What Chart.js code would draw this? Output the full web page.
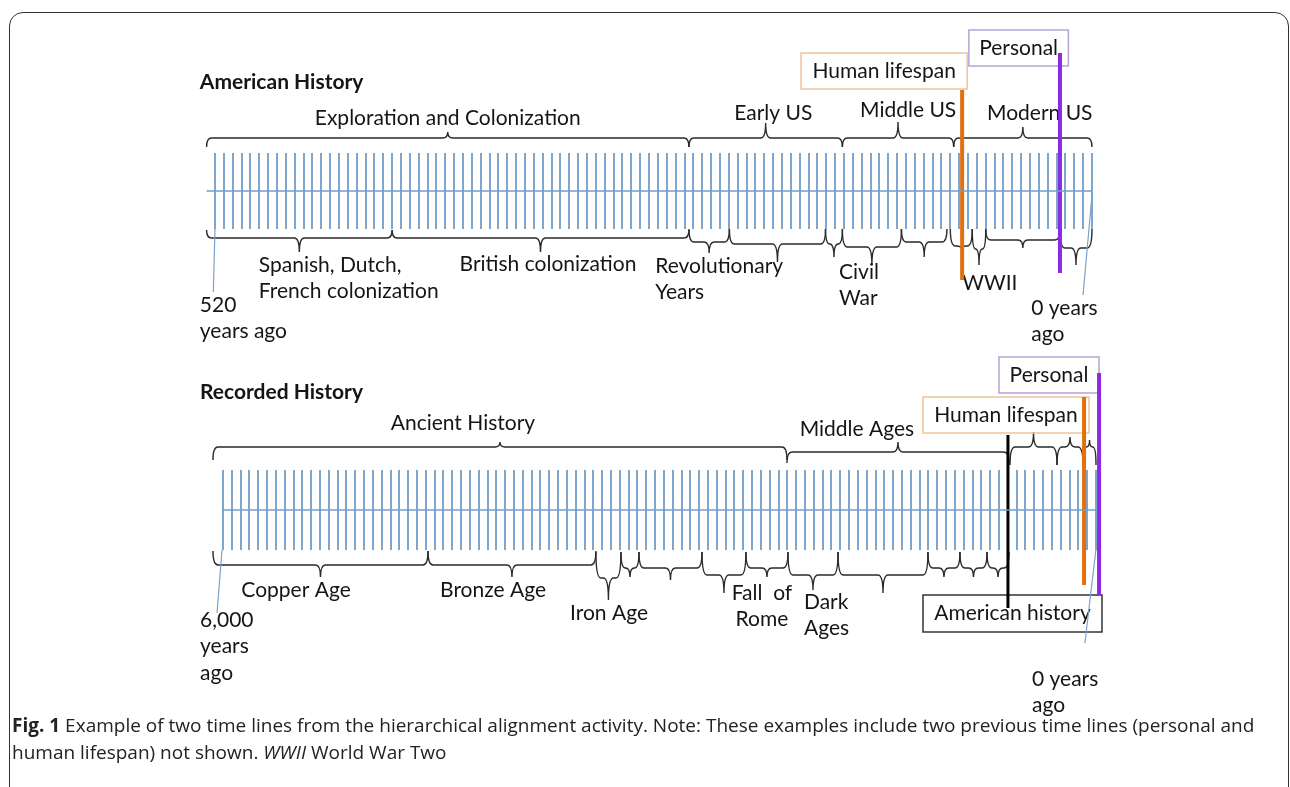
<!DOCTYPE html>
<html>
<head>
<meta charset="utf-8">
<script src="https://cdn.jsdelivr.net/npm/chart.js@4.4.1/dist/chart.umd.min.js"></script>
<style>
  body { margin: 0; background: #fff; width: 1290px; height: 787px; overflow: hidden; position: relative; }
  #frame { position: absolute; left: 9px; top: 12px; width: 1280px; height: 800px; border: 1.5px solid #333; border-radius: 14px; box-sizing: border-box; }
  canvas { position: absolute; left: 0; }
  #us { top: 0; }
  #world { top: 340px; }
  #caption { position: absolute; left: 12px; top: 712px; font: 19px "Open Sans", sans-serif; line-height: 27px; color: #222; white-space: nowrap; }
  #caption b { font-weight: 700; }
</style>
</head>
<body>
<div id="frame"></div>
<canvas id="us" width="1290" height="350"></canvas>
<canvas id="world" width="1290" height="380"></canvas>
<div id="caption"><b>Fig. 1</b> Example of two time lines from the hierarchical alignment activity. Note: These examples include two previous time lines (personal and<br>human lifespan) not shown. <i>WWII</i> World War Two</div>
<script>
// ---- American history timeline (years ago) ----
const usSpan = [520, 0];
const usTickCount = 100;
const usAxisLine = [525, 0];
// [from, to, lineY, endY, tipY]
const usTopBraces = [
  [525, 239, 53, 44, 59],
  [239, 148, 53, 44, 68],
  [148, 82, 53, 44, 69],
  [82, 0, 53, 44, 64]
];
const usLowBraces = [
  [525, 415, -47, -39, -61],
  [415, 239, -47, -39, -61],
  [239, 215, -51, -38, -62],
  [215, 158, -53, -38, -71],
  [158, 148, -53, -38, -66],
  [148, 113, -56, -38, -74],
  [113, 86, -51, -38, -66],
  [84, 71, -55, -38, -58],
  [71, 63, -58, -38, -74],
  [63, 19, -49, -38, -57],
  [19, 0, -57, -38, -74]
];
// [lines, x, y, align, bold]
const usLabels = [
  [["American History"], 529, 109, "left", true],
  [["Exploration and Colonization"], 382, 73, "center"],
  [["Early US"], 189, 78, "center"],
  [["Middle US"], 109, 81, "center"],
  [["Modern US"], 31, 78, "center"],
  [["Spanish, Dutch,", "French colonization"], 494, -74, "left"],
  [["British colonization"], 375, -73, "left"],
  [["Revolutionary", "Years"], 259, -75, "left"],
  [["Civil", "War"], 150, -81, "left"],
  [["WWII"], 77, -92, "left"],
  [["520", "years ago"], 529, -114, "left"],
  [["0 years", "ago"], 36, -117, "left"]
];
// [text, from, to, top, bottom, colour]
const usBoxes = [
  ["Human lifespan", 172.5, 74, 138, 102, "#f0c49a"],
  ["Personal", 73, 14, 161, 125, "#b2a5d6"]
];
// [x, top, bottom, colour, width]
const usMarkers = [
  [77, 101, -89, "#e3700f", 4],
  [19, 138, -82, "#8a2be2", 4]
];
// [x1, y1, x2, y2]
const usPointers = [
  [520, -38, 521, -101],
  [0, -4, 5.3, -104]
];

// ---- Recorded history timeline (years ago) ----
const worldSpan = [6000, 0];
const worldTickCount = 100;
const worldAxisLine = [6007, 0];
const worldTopBraces = [
  [6069, 2124, 63, 50, 68],
  [2124, 598, 58, 47, 68],
  [591, 268, 63, 45, 78],
  [268, 89, 63, 45, 73],
  [89, 0, 63, 45, 70]
];
const worldLowBraces = [
  [6069, 4591, -55, -41, -67],
  [4591, 3437, -55, -41, -67],
  [3437, 3265, -68, -42, -90],
  [3265, 3141, -58, -42, -67],
  [3141, 2708, -58, -42, -70],
  [2708, 2406, -65, -42, -83],
  [2406, 2117, -58, -42, -67],
  [2117, 1773, -65, -42, -80],
  [1773, 1155, -65, -42, -83],
  [1155, 935, -58, -42, -67],
  [935, 749, -58, -42, -67],
  [749, 598, -58, -42, -67]
];
const worldLabels = [
  [["Recorded History"], 6158, 118, "left", true],
  [["Ancient History"], 4351, 87, "center"],
  [["Middle Ages"], 1643, 81, "center"],
  [["Copper Age"], 5498, -80, "center"],
  [["Bronze Age"], 4144, -80, "center"],
  [["Iron Age"], 3347, -103, "center"],
  [["Fall  of", "Rome"], 2296, -83, "center"],
  [["Dark", "Ages"], 2007, -92, "left"],
  [["6,000", "years", "ago"], 6158, -110, "left"],
  [["0 years", "ago"], 440, -169, "left"]
];
const worldBoxes = [
  ["Human lifespan", 1189, 48, 113, 77, "#f0c49a"],
  ["Personal", 667, -21, 153, 117, "#b2a5d6"],
  ["American history", 1189, -41, -85, -122, "#333333"]
];
const worldMarkers = [
  [605, 75, -98, "#000000", 3],
  [82, 113, -75, "#e3700f", 4],
  [-21, 137, -85, "#8a2be2", 4]
];
const worldPointers = [
  [6007, -40, 6041, -103],
  [-21, -13, 76, -133]
];

const FONT = "Lato, sans-serif";
const FONT_SIZE = 21;
const LINE_H = 26.5;
const TICK_COLOR = "#7fa6cc";

function drawBrace(ctx, xs, ys, b) {
  let x1 = xs.getPixelForValue(b[0]);
  let x2 = xs.getPixelForValue(b[1]);
  if (x1 > x2) [x1, x2] = [x2, x1];
  const yl = ys.getPixelForValue(b[2]);
  const ye = ys.getPixelForValue(b[3]);
  const yt = ys.getPixelForValue(b[4]);
  const xm = (x1 + x2) / 2;
  const r = Math.min(5, (x2 - x1) / 4);
  ctx.beginPath();
  ctx.moveTo(x1, ye);
  ctx.quadraticCurveTo(x1, yl, x1 + r, yl);
  ctx.lineTo(xm - r, yl);
  ctx.quadraticCurveTo(xm, yl, xm, yt);
  ctx.quadraticCurveTo(xm, yl, xm + r, yl);
  ctx.lineTo(x2 - r, yl);
  ctx.quadraticCurveTo(x2, yl, x2, ye);
  ctx.stroke();
}

const overlay = {
  id: "overlay",
  beforeDatasetsDraw(chart, args, opts) {
    const { ctx } = chart;
    const xs = chart.scales.x, ys = chart.scales.y;
    ctx.save();
    ctx.strokeStyle = "#2a2a2a";
    ctx.lineWidth = 1.4;
    opts.braces.forEach(b => drawBrace(ctx, xs, ys, b));
    ctx.textBaseline = "middle";
    opts.boxes.forEach(([text, a, b, t, btm, col]) => {
      const x1 = xs.getPixelForValue(a), x2 = xs.getPixelForValue(b);
      const y1 = ys.getPixelForValue(t), y2 = ys.getPixelForValue(btm);
      ctx.strokeStyle = col;
      ctx.lineWidth = 1.5;
      ctx.strokeRect(x1, y1, x2 - x1, y2 - y1);
      ctx.fillStyle = "#151515";
      ctx.font = FONT_SIZE + "px " + FONT;
      ctx.textAlign = "center";
      ctx.fillText(text, (x1 + x2) / 2, (y1 + y2) / 2);
    });
    ctx.fillStyle = "#151515";
    opts.labels.forEach(([lines, xv, yv, align, bold]) => {
      ctx.font = (bold ? "bold " : "") + FONT_SIZE + "px " + FONT;
      ctx.textAlign = align;
      lines.forEach((t, i) => ctx.fillText(t, xs.getPixelForValue(xv), ys.getPixelForValue(yv) + i * LINE_H));
    });
    ctx.restore();
  }
};

function makeTimeline(id, span, tickCount, axisLine, half, pad, parts) {
  const datasets = [
    { data: [{ x: axisLine[0], y: 0 }, { x: axisLine[1], y: 0 }], borderColor: "#6f9ccb", borderWidth: 1.5 }
  ];
  parts.markers.forEach(([xv, t, b, col, w]) => {
    datasets.push({ data: [{ x: xv, y: t }, { x: xv, y: b }], borderColor: col, borderWidth: w });
  });
  parts.pointers.forEach(([x1, y1, x2, y2]) => {
    datasets.push({ data: [{ x: x1, y: y1 }, { x: x2, y: y2 }], borderColor: "#7aa3cc", borderWidth: 1.2 });
  });
  datasets.forEach(d => { d.pointRadius = 0; d.clip = false; d.tension = 0; });

  return new Chart(document.getElementById(id), {
    type: "line",
    data: { datasets },
    options: {
      responsive: false,
      animation: false,
      events: [],
      layout: { padding: pad },
      plugins: {
        legend: { display: false },
        tooltip: { enabled: false },
        overlay: parts
      },
      scales: {
        x: {
          type: "linear",
          min: span[1],
          max: span[0],
          reverse: true,
          border: { display: false },
          grid: { color: TICK_COLOR, lineWidth: 2, drawTicks: false },
          ticks: { display: false, autoSkip: false, stepSize: (span[0] - span[1]) / (tickCount - 1) }
        },
        y: { type: "linear", min: -half, max: half, display: false }
      }
    },
    plugins: [overlay]
  });
}

makeTimeline("us", usSpan, usTickCount, usAxisLine, 38,
  { left: 215, right: 198, top: 153, bottom: 121 },
  { braces: usTopBraces.concat(usLowBraces), labels: usLabels, boxes: usBoxes, markers: usMarkers, pointers: usPointers });

makeTimeline("world", worldSpan, worldTickCount, worldAxisLine, 40,
  { left: 223, right: 194, top: 130, bottom: 170 },
  { braces: worldTopBraces.concat(worldLowBraces), labels: worldLabels, boxes: worldBoxes, markers: worldMarkers, pointers: worldPointers });
</script>
</body>
</html>
